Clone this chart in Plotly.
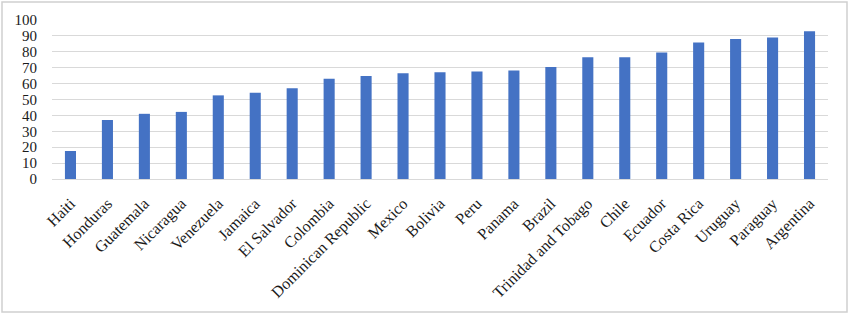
import plotly.graph_objects as go

countries = ["Haiti", "Honduras", "Guatemala", "Nicaragua", "Venezuela", "Jamaica",
             "El Salvador", "Colombia", "Dominican Republic", "Mexico", "Bolivia", "Peru",
             "Panama", "Brazil", "Trinidad and Tobago", "Chile", "Ecuador", "Costa Rica",
             "Uruguay", "Paraguay", "Argentina"]
values = [17.6, 37.1, 41.0, 42.2, 52.6, 54.3, 57.1, 63.0, 64.8, 66.5, 67.2, 67.6,
          68.2, 70.5, 76.6, 76.6, 79.6, 85.9, 88.1, 89.0, 93.0]
y_ticks = [0, 10, 20, 30, 40, 50, 60, 70, 80, 90, 100]

W, H = 850, 314
L, R, T, B = 52, 22, 20, 135
pw, ph = W - L - R, H - T - B

fig = go.Figure(go.Bar(x=countries, y=values, marker_color="#4472C4",
                       marker_line_width=0, width=0.3))

def px_x(p):
    return (p - L) / pw

def px_y(p):
    return (H - B - p) / ph

fig.update_layout(
    width=W, height=H,
    margin=dict(l=L, r=R, t=T, b=B),
    paper_bgcolor="white", plot_bgcolor="white",
    font=dict(family="Liberation Serif, Times New Roman, serif", size=15, color="#1a1a1a"),
    showlegend=False,
    bargap=0.7,
    shapes=[dict(type="rect", xref="paper", yref="paper",
                 x0=px_x(2), x1=px_x(847), y0=px_y(2), y1=px_y(312),
                 line=dict(color="#d0d0d0", width=1.5), fillcolor="rgba(0,0,0,0)", layer="below")],
)
fig.update_xaxes(tickangle=-45, showgrid=False, showline=True, linecolor="#d9d9d9",
                 linewidth=1, ticks="", tickfont=dict(size=16), ticklabelstandoff=8)
fig.update_yaxes(range=[0, 100], tickvals=y_ticks, showgrid=True, gridcolor="#d9d9d9",
                 gridwidth=1, zeroline=False, showline=False, ticks="",
                 ticklabelstandoff=14, tickfont=dict(size=15))

fig.write_html("out.html")
